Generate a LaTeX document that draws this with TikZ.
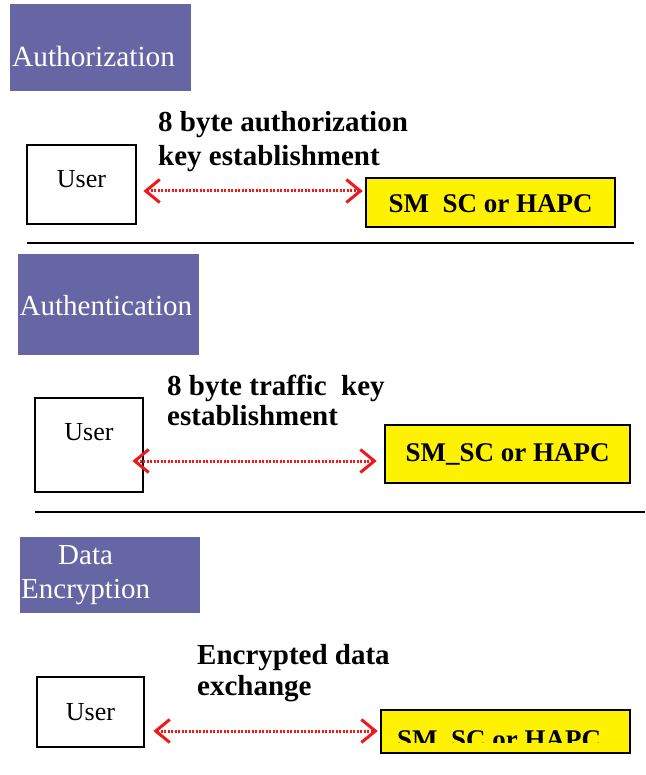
\documentclass[tikz,border=0pt]{standalone}
\usepackage{fontspec}
\setmainfont{Liberation Serif}
\usetikzlibrary{arrows.meta,calc}
\definecolor{hdrblue}{RGB}{102,102,165}
\definecolor{linkred}{RGB}{240,24,24}

\begin{document}
\begin{tikzpicture}[x=1pt,y=-1pt,
  hdr/.style={fill=hdrblue, text=white, inner sep=0pt, anchor=north west,
    align=left, font=\fontsize{29}{34}\selectfont},
  userbox/.style={draw=black, line width=2.8pt, fill=white, inner sep=0pt,
    font=\fontsize{26}{30}\selectfont},
  smbox/.style={draw=black, line width=2.6pt, fill=yellow, inner sep=0pt,
    font=\bfseries\fontsize{27}{30}\selectfont},
  smtext/.style={inner sep=0pt, anchor=base, font=\bfseries\fontsize{27}{30}\selectfont},
  % anchored at the baseline of the last line
  caption/.style={anchor=base west, align=left, inner sep=0pt},
  tip/.tip={Straight Barb[length=14pt,width=23pt]},
  link/.style={draw=linkred, line width=3pt, dash pattern=on 2.2pt off 1.3pt, tip-tip},
  rule/.style={line width=2.8pt}]

\useasboundingbox (0,0) rectangle (645,775);
\fill[white] (0,0) rectangle (645,775);

% ---------- Authorization ----------
\node[hdr, font=\fontsize{29.3}{34}\selectfont, minimum width=181pt, minimum height=87pt,
      text width=177pt, text height=37pt, text depth=0pt] (h1) at (10,4) {Authorization};
\node[caption, font=\bfseries\fontsize{29}{34}\selectfont] (c1) at (158,166)
  {8 byte authorization\\key establishment};
\node[userbox, minimum width=109pt, minimum height=79pt,
      text height=18pt, text depth=11pt] (u1) at (81.5,184.5) {User};
\node[smbox, minimum width=249pt, minimum height=49pt,
      text height=21pt, text depth=0pt] (s1) at (490.5,202.5) {SM\ \ SC or HAPC};
\coordinate (a1) at (0,191);
\draw[link] ($(u1.east |- a1)+(6,0)$) -- ($(s1.west |- a1)+(-2,0)$);
\draw[rule] (27,243) -- (634,243);

% ---------- Authentication ----------
\node[hdr, minimum width=181pt, minimum height=101pt, text width=178pt,
      text height=21pt, text depth=0pt] (h2) at (18,254) {Authentication};
\node[caption, font=\bfseries\fontsize{29}{30}\selectfont] (c2) at (167,425)
  {8 byte traffic\ \ key\\establishment};
\node[userbox, minimum width=108pt, minimum height=94pt,
      text height=10pt, text depth=20pt] (u2) at (89,445) {User};
\node[smbox, minimum width=245pt, minimum height=58pt,
      text height=14pt, text depth=0pt] (s2) at (507.5,454) {SM\_SC or HAPC};
\coordinate (a2) at (0,461);
\draw[link] ($(u2.east |- a2)+(-12,0)$) -- ($(s2.west |- a2)+(-7,0)$);
\draw[rule] (35,512) -- (645,512);

% ---------- Data Encryption ----------
\node[hdr, minimum width=180pt, minimum height=76pt, text width=178pt] (h3)
  at (20,537) {\hspace*{37pt}Data\\Encryption};
\node[caption, font=\bfseries\fontsize{29}{31}\selectfont] (c3) at (197,695)
  {Encrypted data\\exchange};
\node[userbox, minimum width=107pt, minimum height=70pt,
      text height=20pt, text depth=4pt] (u3) at (90.5,712) {User};
\node[smbox, minimum width=249pt, minimum height=43pt] (s3) at (505.5,731.5) {};
\coordinate (cut) at (0,742);
\begin{scope}
  \clip (s3.north west) rectangle (s3.east |- cut);
  \node[smtext] (t3) at ($(s3.south)+(-6.5,-6)$) {SM\ \ SC or HAPC};
\end{scope}
\coordinate (a3) at (0,731);
\draw[link] ($(u3.east |- a3)+(8,0)$) -- ($(s3.west |- a3)+(-2,0)$);
\end{tikzpicture}
\end{document}
